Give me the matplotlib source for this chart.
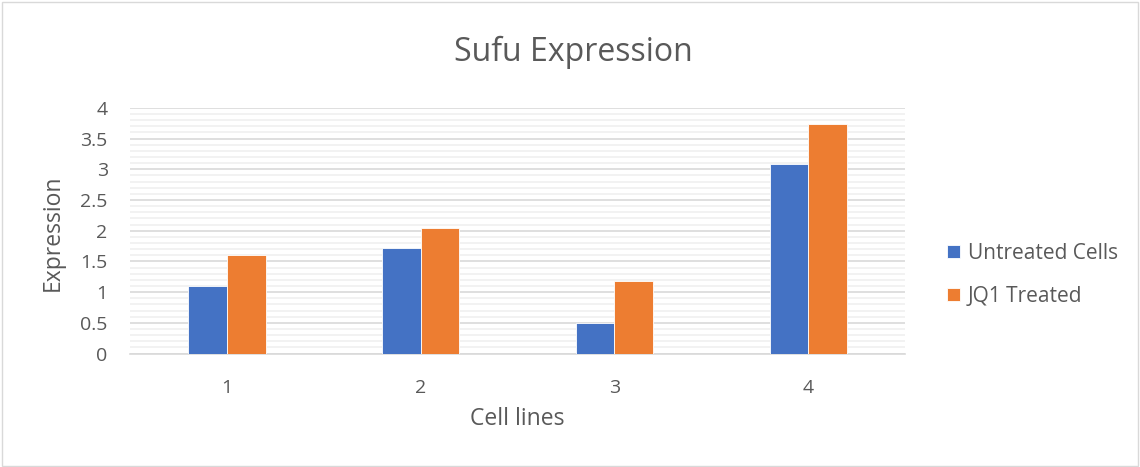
import matplotlib.pyplot as plt
import numpy as np
from matplotlib.patches import Rectangle

# Данные
cell_lines = ['1', '2', '3', '4']
untreated = [1.10, 1.72, 0.50, 3.09]
jq1_treated = [1.60, 2.04, 1.18, 3.74]

blue = '#4472c4'
orange = '#ed7d31'
grey_text = '#595959'

plt.rcParams['font.family'] = ['Open Sans', 'DejaVu Sans']

fig = plt.figure(figsize=(11.4, 4.67), dpi=100)
ax = fig.add_axes([0.114, 0.243, 0.68, 0.526])

x = np.arange(len(cell_lines))
w = 0.2
ax.bar(x - w / 2, untreated, w, color=blue, edgecolor='white', linewidth=0.6, label='Untreated Cells', zorder=3)
ax.bar(x + w / 2, jq1_treated, w, color=orange, edgecolor='white', linewidth=0.6, label='JQ1 Treated', zorder=3)

ax.set_xlim(-0.5, len(cell_lines) - 0.5)
ax.set_ylim(0, 4)
ax.set_xticks(x)
ax.set_xticklabels(cell_lines)
ax.set_yticks(np.arange(0, 4.01, 0.5))
ax.set_yticklabels(['0', '0.5', '1', '1.5', '2', '2.5', '3', '3.5', '4'])
ax.set_yticks(np.arange(0, 4.01, 0.1), minor=True)
ax.grid(axis='y', which='major', color='#d9d9d9', linewidth=1.2, zorder=0)
ax.grid(axis='y', which='minor', color='#f0f0f0', linewidth=1.2, zorder=0)
ax.tick_params(axis='both', which='both', length=0, colors=grey_text, labelsize=14)
ax.tick_params(axis='x', pad=18)
ax.tick_params(axis='y', pad=16)
for s in ['top', 'right', 'left']:
    ax.spines[s].set_visible(False)
ax.spines['bottom'].set_color('#d9d9d9')
ax.spines['bottom'].set_linewidth(1.2)

ax.set_xlabel('Cell lines', fontsize=16.5, color=grey_text, va='center')
ax.xaxis.set_label_coords(0.4995, -0.268)
ax.set_ylabel('Expression', fontsize=16.5, color=grey_text, va='center')
ax.yaxis.set_label_coords(-0.099, 0.49)
fig.text(0.503, 0.887, 'Sufu Expression', fontsize=23, color=grey_text, ha='center', va='center')

ax.legend(loc='center left', bbox_to_anchor=(1.054, 0.32), frameon=False, fontsize=15,
          borderpad=0, borderaxespad=0,
          handlelength=0.6, handleheight=0.6, handletextpad=0.4, labelspacing=1.05,
          labelcolor=grey_text)

# рамка вокруг всего графика
fig.patches.append(Rectangle((0.002, 0.003), 0.996, 0.993, transform=fig.transFigure,
                             fill=False, edgecolor='#d9d9d9', linewidth=1))

fig.savefig('out.png', dpi=100)
